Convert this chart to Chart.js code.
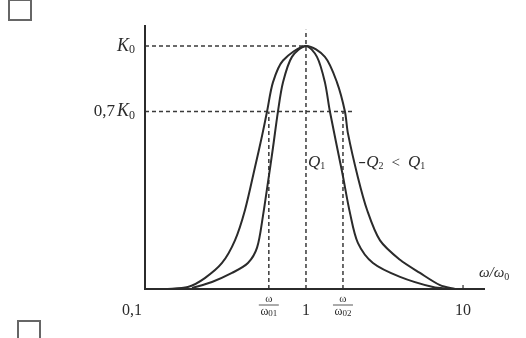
<!DOCTYPE html>
<html>
<head>
<meta charset="utf-8">
<script src="https://cdn.jsdelivr.net/npm/chart.js@4/dist/chart.umd.min.js"></script>
<style>
    body { margin: 0; background: #fff; }
    #wrap { position: relative; width: 526px; height: 338px; overflow: hidden; }
    .box { position: absolute; border: 2px solid #666; width: 20px; height: 18px; }
</style>
</head>
<body>
<div id="wrap">
    <canvas id="resonanceChart" width="526" height="338"></canvas>
    <div class="box" style="left:8px; top:-1px;"></div>
    <div class="box" style="left:17px; top:320px;"></div>
</div>
<script>
// normalised frequency (omega / omega0) and gain (fraction of K0)
const freqWide = [0.126, 0.177, 0.227, 0.292, 0.353, 0.409, 0.473, 0.525, 0.565, 0.616, 0.714, 1, 1.32, 1.575, 1.77, 1.85, 2.14, 2.45, 2.96, 3.97, 5.32, 7.14, 8.9];
const gainWide = [0, 0.008, 0.045, 0.107, 0.20, 0.325, 0.50, 0.63, 0.73, 0.85, 0.94, 1, 0.955, 0.85, 0.73, 0.64, 0.46, 0.325, 0.20, 0.12, 0.066, 0.016, 0];

const freqNarrow = [0.188, 0.252, 0.338, 0.427, 0.488, 0.532, 0.573, 0.616, 0.663, 0.714, 0.814, 1, 1.175, 1.32, 1.42, 1.70, 1.91, 2.14, 2.67, 3.97, 6.44, 8.26];
const gainNarrow = [0.004, 0.029, 0.066, 0.107, 0.17, 0.30, 0.44, 0.58, 0.73, 0.85, 0.955, 1, 0.955, 0.85, 0.73, 0.48, 0.31, 0.19, 0.107, 0.05, 0.008, 0];

const levels = [1, 0.73];
const levelEnds = [1, 2.05];
const cutoffs = [0.58, 1.72];
const cutoffSubs = ['01', '02'];
const xTickValues = [0.1, 1, 10];
const xTickLabels = ['0,1', '1', '10'];

const ink = '#2b2b2b';
const serif = '"Liberation Serif", "DejaVu Serif", serif';

function pts(xs, ys) {
    return xs.map((x, i) => ({ x: x, y: ys[i] }));
}

function dashed(data) {
    return {
        data: data,
        borderColor: '#3a3a3a',
        borderWidth: 1.5,
        borderDash: [4, 3],
        pointRadius: 0,
        tension: 0
    };
}

// draws a row of text pieces (main letters + small subscripts)
function drawParts(ctx, parts, x, y, align) {
    let total = 0;
    parts.forEach(p => {
        ctx.font = p.f;
        p.w = ctx.measureText(p.t).width + (p.gap || 0);
        total += p.w;
    });
    let cx = align === 'right' ? x - total : align === 'center' ? x - total / 2 : x;
    ctx.textAlign = 'left';
    ctx.textBaseline = 'middle';
    parts.forEach(p => {
        ctx.font = p.f;
        ctx.fillText(p.t, cx, y + (p.dy || 0));
        cx += p.w;
    });
}

const labelsPlugin = {
    id: 'labels',
    afterDraw(chart) {
        const ctx = chart.ctx;
        const xs = chart.scales.x;
        const ys = chart.scales.y;
        const area = chart.chartArea;
        ctx.save();
        ctx.strokeStyle = ink;
        ctx.fillStyle = ink;

        // axes
        ctx.lineWidth = 2;
        ctx.beginPath();
        ctx.moveTo(area.left, area.top);
        ctx.lineTo(area.left, ys.getPixelForValue(0));
        ctx.lineTo(area.right, ys.getPixelForValue(0));
        ctx.stroke();

        const base = ys.getPixelForValue(0);

        // level labels on the y axis
        drawParts(ctx, [
            { t: 'K', f: 'italic 18px ' + serif },
            { t: '0', f: '12px ' + serif, dy: 4 }
        ], area.left - 10, ys.getPixelForValue(levels[0]), 'right');
        drawParts(ctx, [
            { t: '0,7', f: '17px ' + serif, gap: 2 },
            { t: 'K', f: 'italic 18px ' + serif },
            { t: '0', f: '12px ' + serif, dy: 4 }
        ], area.left - 10, ys.getPixelForValue(levels[1]), 'right');

        // x tick labels
        ctx.font = '16px ' + serif;
        ctx.textAlign = 'center';
        ctx.textBaseline = 'middle';
        xTickLabels.forEach((lab, i) => {
            let px = xs.getPixelForValue(xTickValues[i]);
            if (px < area.left + 5) px = area.left - 13;
            ctx.fillText(lab, px, base + 22);
        });
        ctx.lineWidth = 1.2;
        ctx.beginPath();
        ctx.moveTo(xs.getPixelForValue(10), base);
        ctx.lineTo(xs.getPixelForValue(10), base - 4);
        ctx.stroke();

        // cutoff fractions omega / omega0x
        cutoffs.forEach((c, i) => {
            const px = xs.getPixelForValue(c);
            ctx.font = '11px ' + serif;
            ctx.textAlign = 'center';
            ctx.fillText('ω', px, base + 10);
            ctx.lineWidth = 0.8;
            ctx.beginPath();
            ctx.moveTo(px - 10, base + 16);
            ctx.lineTo(px + 10, base + 16);
            ctx.stroke();
            drawParts(ctx, [
                { t: 'ω', f: '12px ' + serif },
                { t: cutoffSubs[i], f: '9px ' + serif, dy: 2 }
            ], px, base + 23, 'center');
        });

        // axis name
        drawParts(ctx, [
            { t: 'ω/ω', f: 'italic 15px ' + serif },
            { t: '0', f: '10px ' + serif, dy: 4 }
        ], area.right - 6, base - 16, 'left');

        // curve labels
        const ly = ys.getPixelForValue(0.52);
        drawParts(ctx, [
            { t: 'Q', f: 'italic 17px ' + serif },
            { t: '1', f: '10px ' + serif, dy: 4 }
        ], xs.getPixelForValue(1.03), ly, 'left');
        ctx.lineWidth = 1.2;
        ctx.beginPath();
        ctx.moveTo(xs.getPixelForValue(2.18), ly);
        ctx.lineTo(xs.getPixelForValue(2.38), ly);
        ctx.stroke();
        drawParts(ctx, [
            { t: 'Q', f: 'italic 17px ' + serif },
            { t: '2', f: '10px ' + serif, dy: 4, gap: 8 },
            { t: '<', f: '15px ' + serif, gap: 8 },
            { t: 'Q', f: 'italic 17px ' + serif },
            { t: '1', f: '10px ' + serif, dy: 4 }
        ], xs.getPixelForValue(2.42), ly, 'left');

        ctx.restore();
    }
};

new Chart(document.getElementById('resonanceChart').getContext('2d'), {
    type: 'line',
    data: {
        datasets: [
            {
                data: pts(freqWide, gainWide),
                borderColor: ink,
                borderWidth: 2,
                pointRadius: 0,
                tension: 0.3
            },
            {
                data: pts(freqNarrow, gainNarrow),
                borderColor: ink,
                borderWidth: 2,
                pointRadius: 0,
                tension: 0.3
            },
            dashed([{ x: 0.0944, y: levels[0] }, { x: levelEnds[0], y: levels[0] }]),
            dashed([{ x: 0.0944, y: levels[1] }, { x: levelEnds[1], y: levels[1] }]),
            dashed([{ x: 1, y: 0 }, { x: 1, y: 1.066 }]),
            dashed([{ x: cutoffs[0], y: 0 }, { x: cutoffs[0], y: levels[1] }]),
            dashed([{ x: cutoffs[1], y: 0 }, { x: cutoffs[1], y: levels[1] }])
        ]
    },
    options: {
        responsive: false,
        animation: false,
        layout: { padding: { left: 145, top: 25, right: 41, bottom: 49 } },
        plugins: {
            legend: { display: false },
            tooltip: { enabled: false }
        },
        scales: {
            x: { type: 'logarithmic', min: 0.0944, max: 13.8, display: false },
            y: { type: 'linear', min: 0, max: 1.086, display: false }
        }
    },
    plugins: [labelsPlugin]
});
</script>
</body>
</html>
